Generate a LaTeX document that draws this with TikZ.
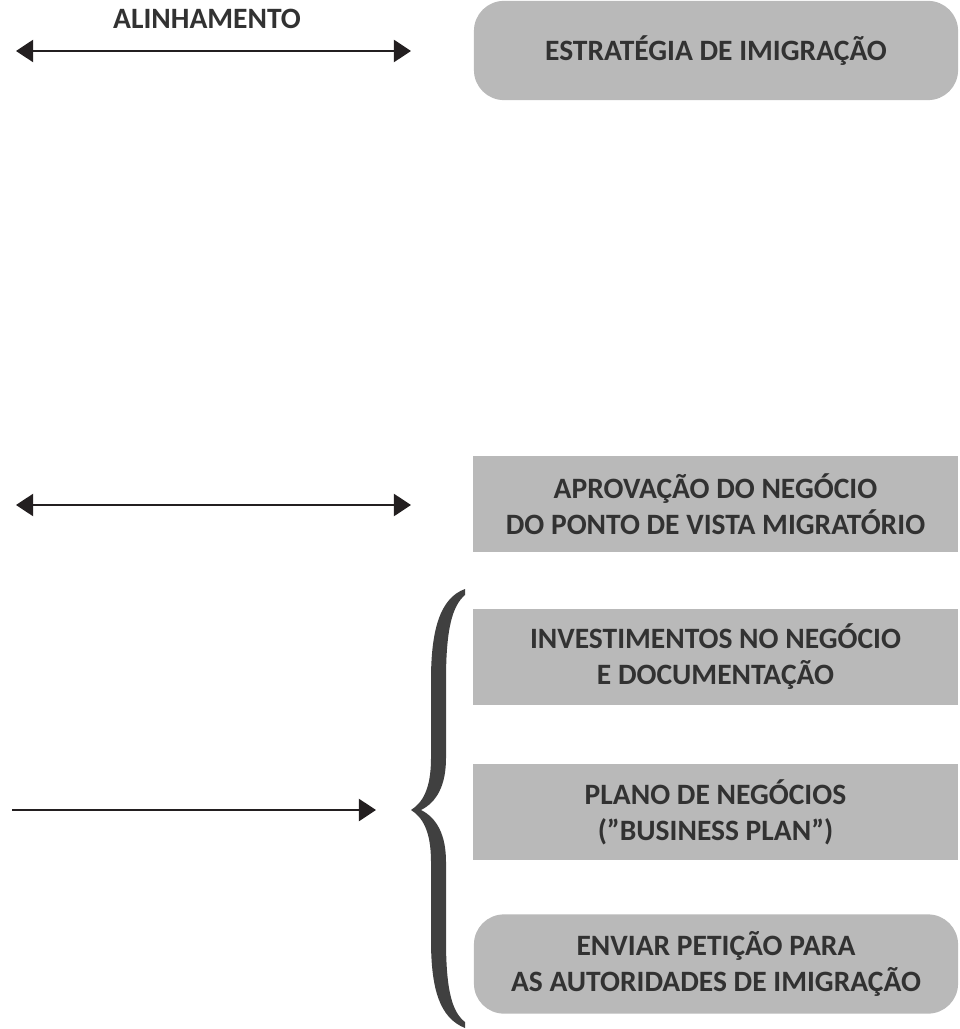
\documentclass[tikz,border=0pt]{standalone}
\usepackage{fontspec}
\setmainfont{Carlito}
\usepackage{tikz}
\usetikzlibrary{arrows.meta}
\definecolor{boxgray}{RGB}{185,185,185}
\definecolor{textgray}{RGB}{50,50,50}
\definecolor{arrowblack}{RGB}{35,31,32}
\definecolor{bracegray}{RGB}{64,64,64}

\begin{document}
\begin{tikzpicture}[x=0.025cm, y=-0.025cm,
    every node/.style={font=\bfseries\fontsize{21}{25.5}\selectfont, text=textgray, align=center},
    stepbox/.style={fill=boxgray, minimum width=12.1cm, minimum height=2.4cm, inner sep=0pt},
    roundbox/.style={stepbox, rounded corners=0.75cm, minimum height=2.48cm},
    link/.style={draw=arrowblack, line width=2pt, -{Triangle[length=0.43cm, width=0.55cm]}},
    both/.style={link, {Triangle[length=0.43cm, width=0.55cm]}-{Triangle[length=0.43cm, width=0.55cm]}}]

                \useasboundingbox (0,0) rectangle (959,1029);

                % Nodes
                \node at (716,50.5) (strategy) [roundbox] {ESTRATÉGIA DE IMIGRAÇÃO};
                \node at (715.5,504) (approval) [stepbox] {APROVAÇÃO DO NEGÓCIO\\DO PONTO DE VISTA MIGRATÓRIO};
                \node at (715.5,657) (invest) [stepbox] {INVESTIMENTOS NO NEGÓCIO\\E DOCUMENTAÇÃO};
                \node at (715.5,812) (plan) [stepbox] {PLANO DE NEGÓCIOS\\(”BUSINESS PLAN”)};
                \node at (716,964) (petition) [roundbox] {ENVIAR PETIÇÃO PARA\\AS AUTORIDADES DE IMIGRAÇÃO};
                \node at (207,19) (align) {ALINHAMENTO};

                \coordinate (a1) at (16,51);
                \coordinate (a2) at (411,51);
                \coordinate (b1) at (16,505);
                \coordinate (b2) at (411,505);
                \coordinate (c1) at (12,810);
                \coordinate (c2) at (376,810);

                % Arrows
                \draw[both] (a1) -- (a2);
                \draw[both] (b1) -- (b2);
                \draw[link] (c1) -- (c2);

                % Brace round the three lower steps
                \fill[bracegray] (465,589) .. controls (440,598) and (431,630) .. (431,680)
                    -- (431,758) .. controls (431,790) and (422,803) .. (411,810)
                    .. controls (422,817) and (431,830) .. (431,862)
                    -- (431,940) .. controls (431,990) and (440,1018) .. (465,1028)
                    -- (465,1022) .. controls (452,1012) and (446,990) .. (446,940)
                    -- (446,862) .. controls (446,835) and (437,818) .. (421,810)
                    .. controls (437,802) and (446,785) .. (446,758)
                    -- (446,680) .. controls (446,630) and (452,606) .. (465,595) -- cycle;

\end{tikzpicture}
\end{document}
